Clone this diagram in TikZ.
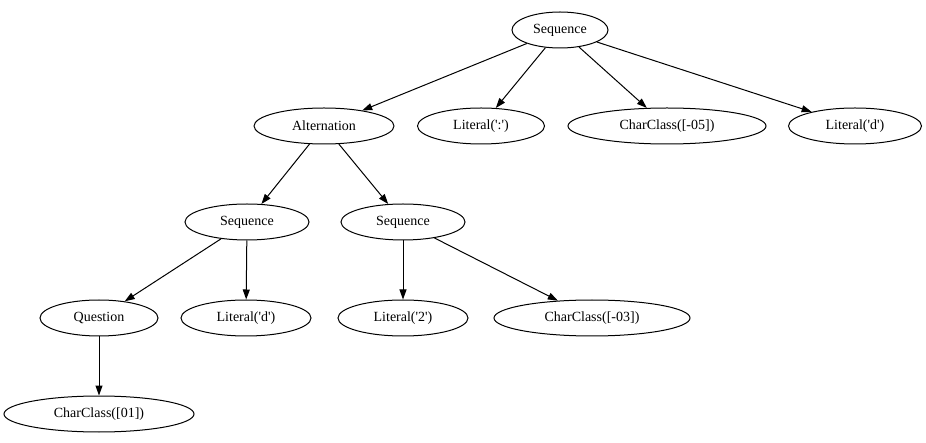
\documentclass[tikz,border=0pt]{standalone}
\usepackage{fontspec}
\setmainfont{Liberation Serif}
\usetikzlibrary{shapes.geometric,arrows.meta}
\newcommand{\sq}{\textquotesingle}

\begin{document}
\begin{tikzpicture}
  [x=1pt, y=-1pt, line width=1pt,
   tnode/.style={ellipse, draw, minimum height=36pt, inner sep=0pt,
     font=\fontsize{14}{16}\selectfont},
   tedge/.style={-{Triangle[length=10pt,width=7pt]}}]
  \useasboundingbox (0, 0) rectangle (926, 443);
  \node[tnode, minimum width=96pt] (seq) at (560, 30) {Sequence};
  \node[tnode, minimum width=140pt] (alt) at (324, 126) {Alternation};
  \node[tnode, minimum width=127pt] (colon) at (481, 126) {Literal(\sq:\sq)};
  \node[tnode, minimum width=198pt] (cc05) at (667, 126) {CharClass([-05])};
  \node[tnode, minimum width=133pt] (dtop) at (855, 126) {Literal(\sq d\sq)};
  \node[tnode, minimum width=124pt] (seql) at (247, 222) {Sequence};
  \node[tnode, minimum width=124pt] (seqr) at (403, 222) {Sequence};
  \node[tnode, minimum width=118pt] (quest) at (99, 318) {Question};
  \node[tnode, minimum width=130pt] (dlow) at (246, 318) {Literal(\sq d\sq)};
  \node[tnode, minimum width=130pt] (two) at (403, 318) {Literal(\sq 2\sq)};
  \node[tnode, minimum width=196pt] (cc03) at (592, 318) {CharClass([-03])};
  \node[tnode, minimum width=190pt] (cc01) at (99, 414) {CharClass([01])};
  \draw[tedge] (seq) -- (alt);
  \draw[tedge] (seq) -- (colon);
  \draw[tedge] (seq) -- (cc05);
  \draw[tedge] (seq) -- (dtop);
  \draw[tedge] (alt) -- (seql);
  \draw[tedge] (alt) -- (seqr);
  \draw[tedge] (seql) -- (quest);
  \draw[tedge] (seql) -- (dlow);
  \draw[tedge] (seqr) -- (two);
  \draw[tedge] (seqr) -- (cc03);
  \draw[tedge] (quest) -- (cc01);
\end{tikzpicture}
\end{document}
